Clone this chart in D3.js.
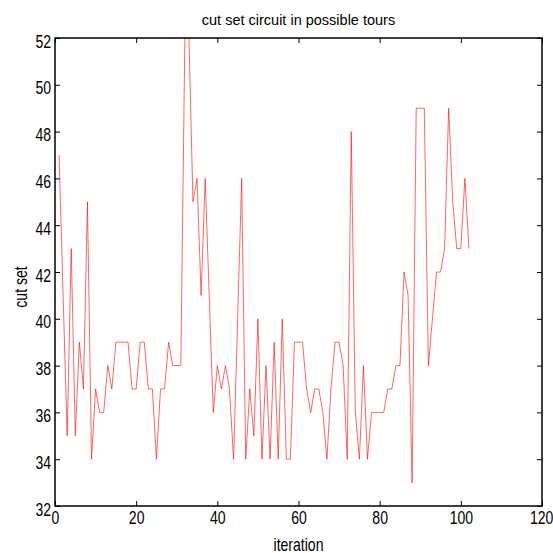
<!DOCTYPE html>
<html>
<head>
<meta charset="utf-8">
<script src="https://cdn.jsdelivr.net/npm/d3@7"></script>
<style>
  body { margin: 0; background: #fff; }
  svg text { font-family: "Liberation Sans", Arial, sans-serif; fill: #000; }
</style>
</head>
<body>
<div id="chart"></div>
<script>
// cut set value per iteration (iteration 1..102)
var cutSet = [
  47, 41, 35, 43, 35, 39, 37, 45, 34, 37, 36, 36, 38, 37, 39, 39, 39, 39, 37, 37,
  39, 39, 37, 37, 34, 37, 37, 39, 38, 38, 38, 52, 52, 45, 46, 41, 46, 41, 36, 38,
  37, 38, 37, 34, 40, 46, 34, 37, 35, 40, 34, 38, 34, 39, 34, 40, 34, 34, 39, 39,
  39, 37, 36, 37, 37, 36, 34, 37, 39, 39, 38, 34, 48, 36, 34, 38, 34, 36, 36, 36,
  36, 37, 37, 38, 38, 42, 41, 33, 49, 49, 49, 38, 40, 42, 42, 43, 49, 45, 43, 43,
  46, 43
];
var xTicks = [0, 20, 40, 60, 80, 100, 120];
var yTicks = [32, 34, 36, 38, 40, 42, 44, 46, 48, 50, 52];

var W = 553, H = 553;
var m = { left: 55, right: 11, top: 38, bottom: 47 };
var iw = W - m.left - m.right, ih = H - m.top - m.bottom;
var sx = 0.78; // labels look squeezed sideways

var svg = d3.select("#chart").append("svg")
  .attr("width", W).attr("height", H);

var g = svg.append("g").attr("transform", "translate(" + m.left + "," + m.top + ")");

var x = d3.scaleLinear().domain([0, 120]).range([0, iw]);
var y = d3.scaleLinear().domain([32, 52]).range([ih, 0]);

g.append("clipPath").attr("id", "clip")
  .append("rect").attr("width", iw).attr("height", ih);

var line = d3.line()
  .x(function(d, i){ return x(i + 1); })
  .y(function(d){ return y(d); });

g.append("path")
  .datum(cutSet)
  .attr("clip-path", "url(#clip)")
  .attr("fill", "none")
  .attr("stroke", "#ff0000")
  .attr("stroke-opacity", 0.8)
  .attr("stroke-width", 0.75)
  .attr("d", line);

function styleAxis(sel){
  sel.select(".domain").remove();
  sel.selectAll(".tick line").attr("stroke", "#000").attr("stroke-width", 1);
  sel.selectAll(".tick text").attr("font-size", 18).attr("font-family", null);
}

// ticks inward on all four sides
var xb = g.append("g").attr("transform", "translate(0," + ih + ")")
  .call(d3.axisBottom(x).tickValues(xTicks).tickSize(-5).tickPadding(5))
  .call(styleAxis);
xb.selectAll(".tick text")
  .attr("x", function(d){ return d === 120 ? -1 : 0; })
  .attr("transform", "scale(" + sx + ",1)");

g.append("g")
  .call(d3.axisTop(x).tickValues(xTicks).tickSize(-5).tickFormat(""))
  .call(styleAxis);

var yl = g.append("g")
  .call(d3.axisLeft(y).tickValues(yTicks).tickSize(-5))
  .call(styleAxis);
yl.selectAll(".tick text")
  .attr("x", -4 / sx).attr("dy", "0.5em")
  .attr("transform", "scale(" + sx + ",1)");

g.append("g").attr("transform", "translate(" + iw + ",0)")
  .call(d3.axisRight(y).tickValues(yTicks).tickSize(-5).tickFormat(""))
  .call(styleAxis);

g.append("rect")
  .attr("width", iw).attr("height", ih)
  .attr("fill", "none").attr("stroke", "#000").attr("stroke-width", 1.5);

// labels
svg.append("text")
  .attr("x", m.left + iw / 2).attr("y", 25)
  .attr("text-anchor", "middle").attr("font-size", 14.5)
  .text("cut set circuit in possible tours");

svg.append("text")
  .attr("transform", "translate(" + (m.left + iw / 2) + ",551) scale(" + sx + ",1)")
  .attr("text-anchor", "middle").attr("font-size", 18)
  .text("iteration");

svg.append("text")
  .attr("transform", "translate(27,287) rotate(-90) scale(" + sx + ",1)")
  .attr("text-anchor", "middle").attr("font-size", 18)
  .text("cut set");
</script>
</body>
</html>
